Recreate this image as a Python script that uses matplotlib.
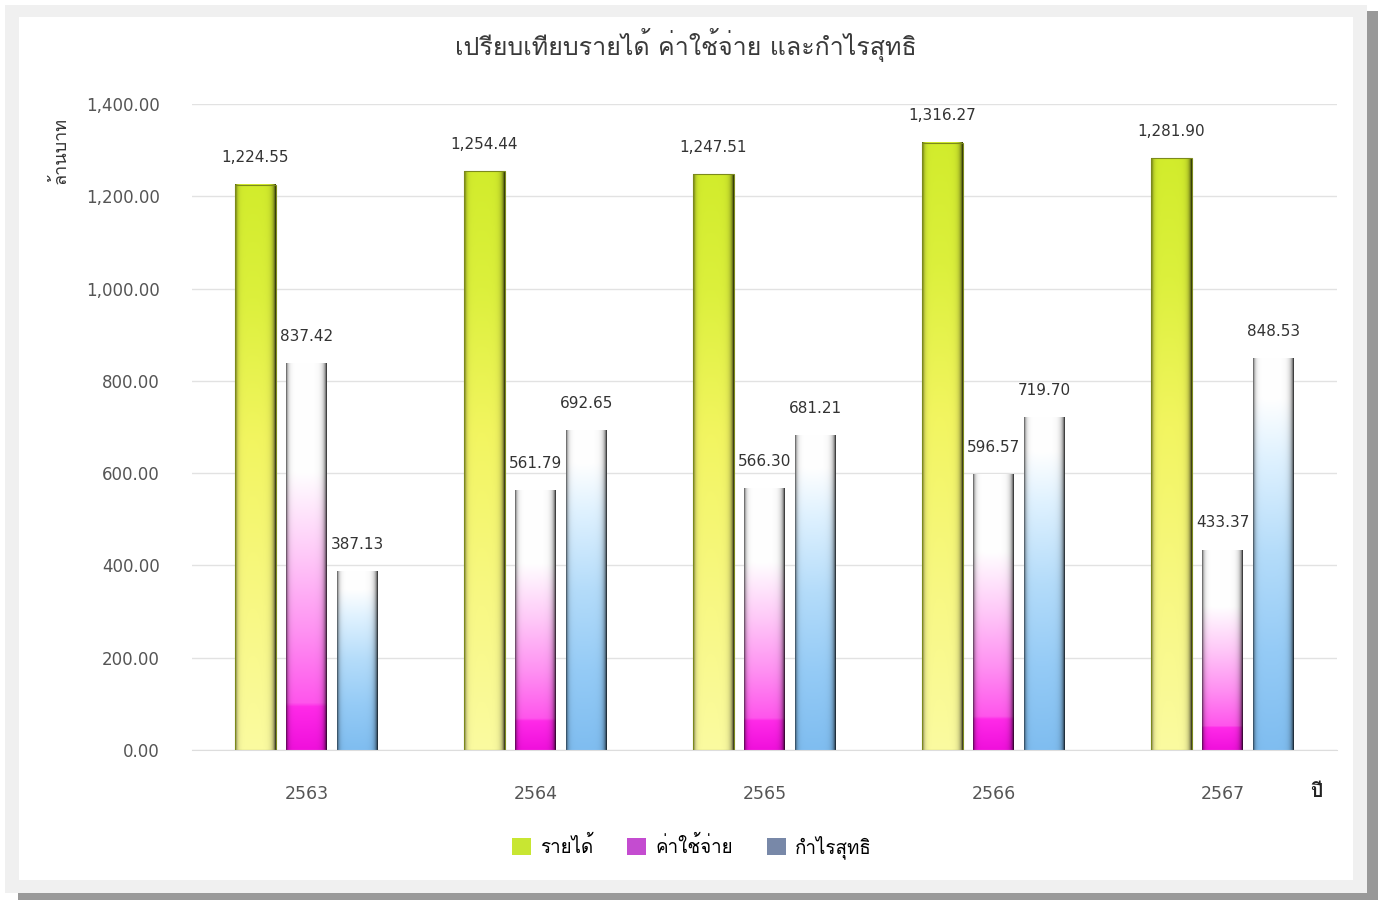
import numpy as np
import matplotlib
matplotlib.use("Agg")
import matplotlib.pyplot as plt
from matplotlib import font_manager
from matplotlib.patches import Rectangle, Patch
from matplotlib.ticker import FuncFormatter, MultipleLocator

#Data (million baht)
years = ["2563", "2564", "2565", "2566", "2567"]
series_names = ["รายได้", "ค่าใช้จ่าย", "กำไรสุทธิ"]
revenue = [1224.55, 1254.44, 1247.51, 1316.27, 1281.90]
expense = [837.42, 561.79, 566.30, 596.57, 433.37]
profit = [387.13, 692.65, 681.21, 719.70, 848.53]

title = "เปรียบเทียบรายได้ ค่าใช้จ่าย และกำไรสุทธิ"
y_label = "ล้านบาท"
x_label = "ปี"


#Find an installed font that has Thai glyphs
def find_thai_font():
    try:
        from fontTools.ttLib import TTFont
    except ImportError:
        return None
    for f in font_manager.fontManager.ttflist:
        try:
            tt = TTFont(f.fname, fontNumber=0, lazy=True)
            cmap = tt.getBestCmap()
            if cmap and 0x0E01 in cmap and 0x0E49 in cmap:
                return f.name
        except Exception:
            pass
    return None


thai = find_thai_font()
thai_family = [thai, "DejaVu Sans"] if thai else ["DejaVu Sans"]
plt.rcParams["font.family"] = ["DejaVu Sans"]

#Vertical colour ramps (position from bar bottom 0 -> top 1)
ramps = [
    ([0.0, 0.25, 0.55, 0.8, 1.0],
     ["#fbfba0", "#f8f884", "#f2f560", "#dcf03c", "#d2ec2c"]),
    ([0.0, 0.11, 0.12, 0.3, 0.5, 0.72, 1.0],
     ["#f010dc", "#ff2ae8", "#ff55ec", "#ff90f2", "#ffc8f8", "#ffffff", "#ffffff"]),
    ([0.0, 0.25, 0.5, 0.75, 0.9, 1.0],
     ["#7fbdf0", "#95cbf6", "#b4dcfa", "#e0f2ff", "#ffffff", "#ffffff"]),
]
edge_cols = ["#7c8a1c", "#5a2a5a", "#4a5668"]


def hex_rgb(c):
    c = c.lstrip("#")
    return [int(c[i:i + 2], 16) / 255 for i in (0, 2, 4)]


def gradient_image(pos, cols, nh=200, nw=40):
    rgb = np.array([hex_rgb(c) for c in cols])
    v = np.linspace(0, 1, nh)
    col = np.stack([np.interp(v, pos, rgb[:, k]) for k in range(3)], axis=1)
    u = np.linspace(0, 1, nw)
    shade = 1 - 0.55 * np.exp(-u / 0.045) - 0.75 * np.exp(-(1 - u) / 0.06)
    shade = np.clip(shade, 0.2, 1)
    img = col[:, None, :] * shade[None, :, None]
    return np.clip(img, 0, 1)


fig = plt.figure(figsize=(13.78, 9), dpi=100)
fig.patch.set_facecolor("white")

#Frame: shadow, grey border, white panel (pixel coords -> figure fraction)
W, H = 1378, 900


def frame_rect(x0, y0, x1, y1, color):
    fig.patches.append(Rectangle((x0 / W, 1 - y1 / H), (x1 - x0) / W, (y1 - y0) / H,
                                 transform=fig.transFigure, facecolor=color,
                                 edgecolor="none", zorder=-10))


frame_rect(18, 11, 1378, 900, "#999999")
frame_rect(5, 5, 1367, 893, "#f0f0f0")
frame_rect(19, 17, 1353, 880, "#ffffff")

ax = fig.add_axes([192 / W, 1 - 750 / H, 1145 / W, (750 - 104) / H])
ax.set_facecolor("none")

x = np.arange(len(years))
width = 0.179
offsets = [-0.223, 0.0, 0.223]
all_series = [revenue, expense, profit]

for s, vals in enumerate(all_series):
    bars = ax.bar(x + offsets[s], vals, width, facecolor="none",
                  edgecolor=edge_cols[s] if s == 0 else "none", linewidth=0.8, zorder=3)
    img = gradient_image(*ramps[s])
    for b, v in zip(bars, vals):
        bx, bw, bh = b.get_x(), b.get_width(), b.get_height()
        ax.imshow(img, extent=[bx, bx + bw, 0, bh], origin="lower",
                  aspect="auto", zorder=2, interpolation="bilinear")
        ax.annotate(f"{v:,.2f}", (bx + bw / 2, bh), xytext=(0, 19.5),
                    textcoords="offset points", ha="center", va="center",
                    fontsize=11, color="#333333", zorder=5)

ax.set_xlim(-0.5, len(years) - 0.5)
ax.set_ylim(0, 1400)
ax.yaxis.set_major_locator(MultipleLocator(200))
ax.yaxis.set_major_formatter(FuncFormatter(lambda v, p: f"{v:,.2f}"))
ax.set_xticks(x)
ax.set_xticklabels(years)
ax.tick_params(axis="both", length=0, colors="#555555")
ax.tick_params(axis="y", pad=23, labelsize=12)
ax.tick_params(axis="x", pad=25, labelsize=12.5)
ax.yaxis.grid(True, color="#e2e2e2", linewidth=1)
ax.set_axisbelow(True)
for side in ["top", "right", "left"]:
    ax.spines[side].set_visible(False)
ax.spines["bottom"].set_color("#dddddd")

fig.text(686 / W, 1 - 45 / H, title, ha="center", va="center", fontsize=18,
         color="#3a3a3a", family=thai_family)
fig.text(60 / W, 1 - 150 / H, y_label, ha="center", va="center", rotation=90,
         fontsize=13, color="#333333", family=thai_family)
fig.text(1316 / W, 1 - 792 / H, x_label, ha="center", va="center", fontsize=14,
         fontweight="bold", color="#222222", family=thai_family)

handles = [Patch(facecolor=c, edgecolor="none") for c in ["#c8e632", "#c44cd0", "#7888a8"]]
fig.legend(handles, series_names, loc="center", bbox_to_anchor=(692 / W, 1 - 847 / H),
           ncol=3, frameon=False, handlelength=1.0, handleheight=1.0, handletextpad=0.5,
           columnspacing=1.8, prop={"family": thai_family, "size": 13.5})

fig.savefig("out.png", dpi=100, facecolor=fig.get_facecolor())
